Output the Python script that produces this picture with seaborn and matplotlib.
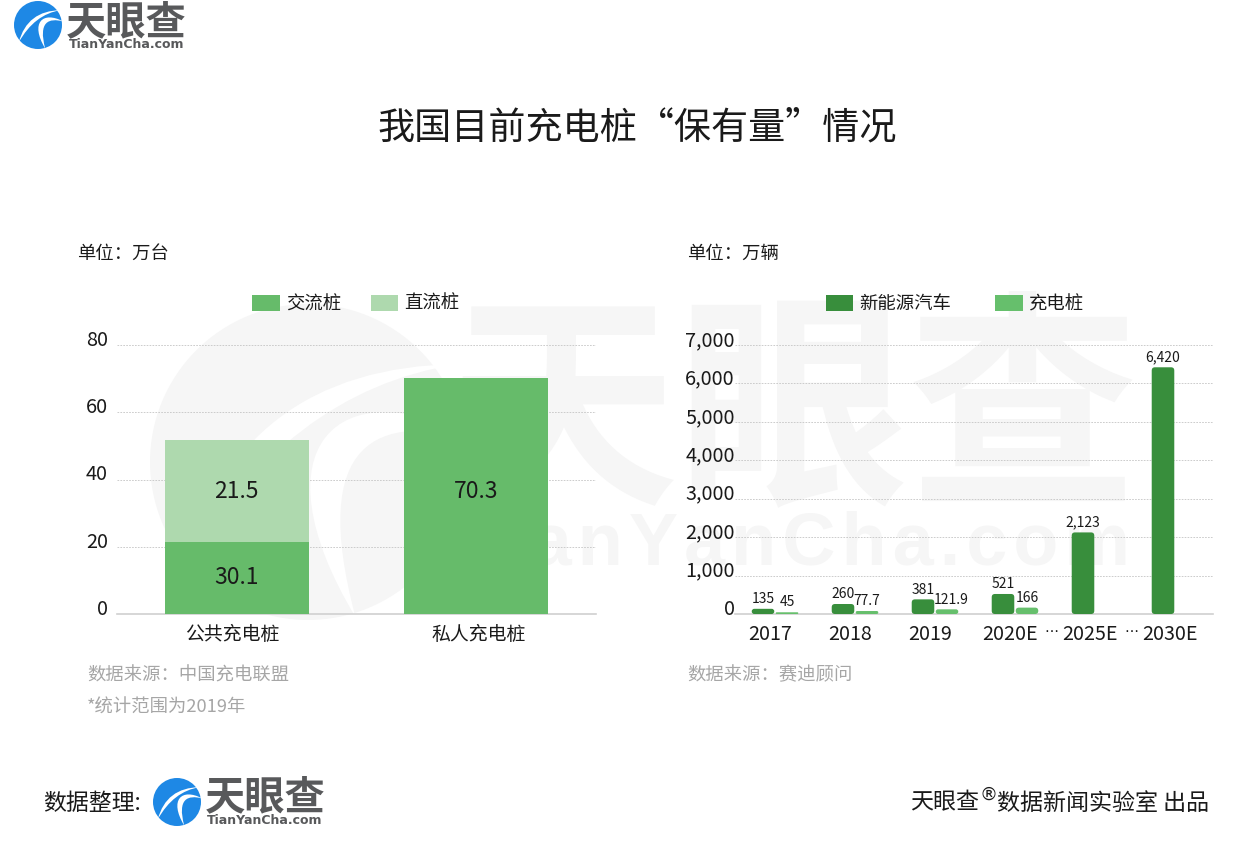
import numpy as np
import pandas as pd
import matplotlib
matplotlib.use("Agg")
import matplotlib.pyplot as plt
import seaborn as sns
from matplotlib.patches import FancyBboxPatch, PathPatch, Circle
from matplotlib.path import Path
from matplotlib.transforms import ScaledTranslation

# left chart, the picture draws the lower segment at 21.5 tall but prints 30.1 on it
pile_types = ["公共充电桩", "私人充电桩"]
lower_heights = [21.5, 70.3]
upper_heights = [30.1, 0]
lower_labels = ["30.1", "70.3"]
upper_labels = ["21.5", ""]
left_ticks = [0, 20, 40, 60, 80]

# right chart
years = ["2017", "2018", "2019", "2020E", "2025E", "2030E"]
cars = [135, 260, 381, 521, 2123, 6420]
chargers = [45, 77.7, 121.9, 166, np.nan, np.nan]
right_ticks = [0, 1000, 2000, 3000, 4000, 5000, 6000, 7000]

W, H = 1260, 859
GREEN = "#66bb6a"
LIGHT = "#aed9ae"
DARK = "#388e3c"
SOFT = "#66bf6c"
GREY = "#a6a6a6"
MARK = "#f6f6f6"
INK = "#1a1a1a"
COLON = "\uff1a"  # full width colon

sns.set_theme(style="white")
plt.rcParams["font.family"] = ["Noto Sans CJK SC", "DejaVu Sans"]
plt.rcParams["text.color"] = INK

fig = plt.figure(figsize=(W / 100, H / 100), dpi=100, facecolor="white")


def px_axes(x0, x1, y0, y1):
    # axes placed by pixel edges of the picture
    a = fig.add_axes([x0 / W, 1 - y1 / H, (x1 - x0) / W, (y1 - y0) / H])
    a.patch.set_visible(False)
    return a


def put(x, y, s, size, color=INK, ha="left", **kw):
    # the CJK font sits a little high when centred, so push it down
    bg.text(x, y + size * 0.13, s, fontsize=size, color=color, ha=ha, va="center", **kw)


def logo(cx, cy, r, color, cut="white", z=1):
    bg.add_patch(Circle((cx, cy), r, fc=color, ec="none", zorder=z))
    swooshes = [
        ([(-0.8, -0.72), (-0.45, 0.6), (0.95, 0.62), (-0.15, 0.45), (-0.8, -0.72)],
         [Path.MOVETO, Path.CURVE3, Path.CURVE3, Path.CURVE3, Path.CURVE3]),
        ([(1.05, 0.15), (0.2, 0.6), (-0.35, 0.1), (0.3, -0.98), (0.0, 0.15), (0.45, 0.3), (1.05, 0.15)],
         [Path.MOVETO, Path.CURVE4, Path.CURVE4, Path.CURVE4, Path.CURVE4, Path.CURVE4, Path.CURVE4]),
    ]
    for verts, codes in swooshes:
        pts = np.array(verts) * [r, -r] + [cx, cy]
        bg.add_patch(PathPatch(Path(pts, codes), fc=cut, ec="none", zorder=z + 0.1))


# background layer in pixel coordinates: watermark, logos, free text
bg = fig.add_axes([0, 0, 1, 1])
bg.set_xlim(0, W)
bg.set_ylim(H, 0)
bg.axis("off")

logo(308, 462, 158, MARK)
put(793, 397, "天眼查", 166, color=MARK, ha="center", fontweight="bold")
bg.text(1130, 545, "\u200a".join("TianYanCha.com"), fontsize=53, color=MARK, ha="right",
        va="center", fontweight="bold", family="Liberation Sans")

logo(38, 25, 24, "#1e88e5")
put(126, 19, "天眼查", 29, color="#58595b", ha="center", fontweight="bold")
bg.text(127, 44, "TianYanCha.com", fontsize=9, color="#58595b", ha="center", va="center",
        fontweight="bold", family="DejaVu Sans")
logo(177, 802, 24, "#1e88e5")
put(265, 794, "天眼查", 29, color="#58595b", ha="center", fontweight="bold")
bg.text(265, 821, "TianYanCha.com", fontsize=9, color="#58595b", ha="center", va="center",
        fontweight="bold", family="DejaVu Sans")

put(637, 124, "我国目前充电桩“保有量”情况", 26.7, ha="center")
put(77, 252, f"单位{COLON}万台", 13.2)
put(687, 252, f"单位{COLON}万辆", 13.2)
put(87, 674, f"数据来源{COLON}中国充电联盟", 13.2, color=GREY)
put(87, 706, "*统计范围为2019年", 13.2, color=GREY)
put(687, 674, f"数据来源{COLON}赛迪顾问", 13.2, color=GREY)
put(43, 801, "数据整理:", 16.5)
put(910, 801, "天眼查", 16.6)
bg.text(980, 795, "®", fontsize=13, color=INK, va="center", family="DejaVu Sans")
put(1209, 801, "数据新闻实验室 出品", 16.6, ha="right")
for dots_x in (1051, 1131):
    bg.text(dots_x, 628, "…", fontsize=10, color=INK, ha="center", va="center", family="DejaVu Sans")

# left chart: stacked bars
ax1 = px_axes(117, 596, 345, 614)
sns.barplot(x=pile_types, y=lower_heights, color=GREEN, saturation=1, width=0.6,
            linewidth=0, ax=ax1, label="交流桩", zorder=3)
sns.barplot(x=pile_types, y=upper_heights, bottom=lower_heights, color=LIGHT, saturation=1,
            width=0.6, linewidth=0, ax=ax1, label="直流桩", zorder=3)
ax1.set_xlim(-0.5, 1.5)
ax1.set_ylim(0, 80)
ax1.set_yticks(left_ticks)
ax1.set_xticks([-0.02, 1.012])
ax1.set_xticklabels(pile_types)
ax1.set_xticks([0, 1], minor=True)
for c, texts in zip(ax1.containers, [lower_labels, upper_labels]):
    for ann in ax1.bar_label(c, labels=texts, label_type="center", fontsize=16.5, color=INK):
        if ann.get_text() == "70.3":
            ann.xyann = (0, 3)
ax1.legend(loc="center", bbox_to_anchor=(356 / W, 1 - 304 / H),
           bbox_transform=fig.transFigure, ncols=2, frameon=False, fontsize=13.2,
           handlelength=1.5, handleheight=1.0, handletextpad=0.35, columnspacing=1.6)

# right chart: grouped bars
long_df = pd.DataFrame({
    "year": years * 2,
    "value": cars + chargers,
    "kind": ["新能源汽车"] * len(years) + ["充电桩"] * len(years),
})
ax2 = px_axes(735, 1213, 345, 614)
sns.barplot(data=long_df, x="year", y="value", hue="kind", palette=[DARK, SOFT],
            saturation=1, width=0.6, gap=0.06, linewidth=0, ax=ax2, zorder=3)
ax2.set_xlim(-0.5, 5.475)
ax2.set_ylim(0, 7000)
ax2.set_yticks(right_ticks)
ax2.set_yticklabels([f"{v:,}" for v in right_ticks])
ax2.set_xticks(np.arange(len(years)) - 0.06)
ax2.set_xticklabels(years)
ax2.set_xticks(np.arange(len(years)), minor=True)
ax2.legend(loc="center", bbox_to_anchor=(955 / W, 1 - 304 / H),
           bbox_transform=fig.transFigure, ncols=2, frameon=False, fontsize=13.2,
           handlelength=1.5, handleheight=1.0, handletextpad=0.35, columnspacing=2.4)

# rounded corners on the right bars, and value labels above them
aspect = (7000 / 269) * 80
for c in ax2.containers:
    for ann in ax2.bar_label(c, fmt=lambda v: f"{v:,g}", padding=2, fontsize=10, color=INK):
        if ann.get_text() == "121.9":
            ann.xyann = (3, 2)
    for rect in c:
        if np.isnan(rect.get_height()):
            continue
        rect.set_visible(False)
        w, h = rect.get_width(), rect.get_height()
        rad = min(0.04, h / aspect / 2)
        ax2.add_patch(FancyBboxPatch(
            rect.get_xy(), w, h, boxstyle=f"round,pad=0,rounding_size={rad}",
            mutation_aspect=aspect, fc=rect.get_facecolor(), ec="none", zorder=3))

for ax, pad_y, size_x in ((ax1, 6.5, 13.6), (ax2, 0, 14.2)):
    sns.despine(ax=ax, left=True)
    ax.spines["bottom"].set_color("#d0d0d0")
    ax.spines["bottom"].set_linewidth(1.2)
    ax.grid(axis="y", color="#c4c4c4", linestyle=(0, (2, 1.5)), linewidth=0.6, zorder=0)
    ax.set_axisbelow(True)
    ax.set_xlabel("")
    ax.set_ylabel("")
    ax.tick_params(axis="x", which="major", length=0, pad=7.5, labelsize=size_x, labelcolor=INK)
    ax.tick_params(axis="x", which="minor", length=2.5, width=0.8, color="#d0d0d0")
    ax.tick_params(axis="y", length=0, pad=pad_y, labelsize=14.3, labelcolor=INK)
    # the y labels in the picture sit above their grid lines
    for lab in ax.get_yticklabels():
        lab.set_transform(lab.get_transform() + ScaledTranslation(0, 7 / 100, fig.dpi_scale_trans))

fig.savefig("out.png", dpi=100)
